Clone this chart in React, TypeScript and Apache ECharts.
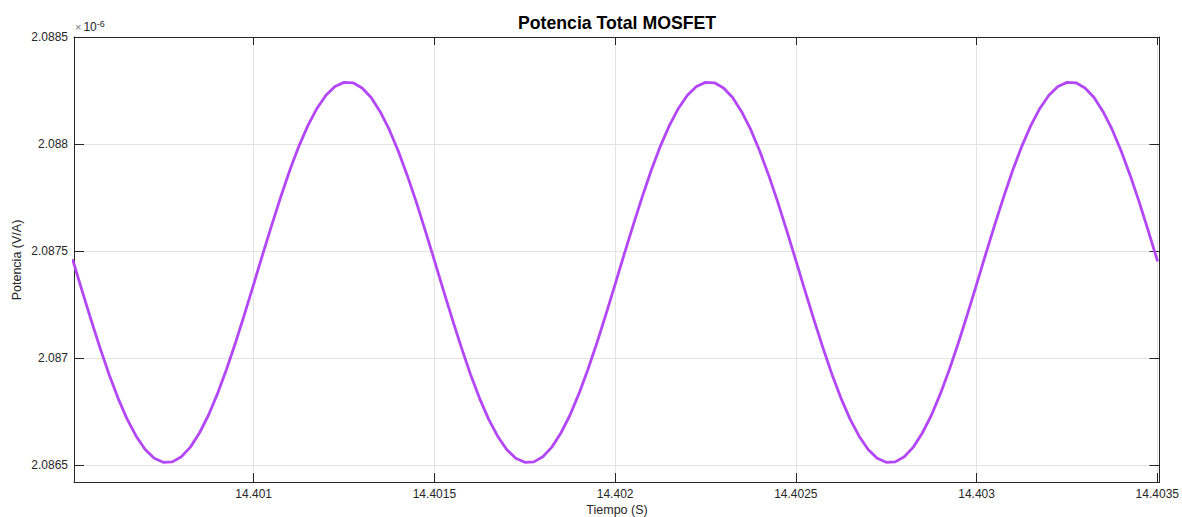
import React, { useEffect, useRef } from "react";
import * as echarts from "echarts";

const tiempo: number[] = [
  14.4005, 14.400525, 14.40055, 14.400575, 14.4006, 14.400625, 14.40065, 14.400675, 14.4007, 14.400725,
  14.40075, 14.400775, 14.4008, 14.400825, 14.40085, 14.400875, 14.4009, 14.400925, 14.40095, 14.400975,
  14.401, 14.401025, 14.40105, 14.401075, 14.4011, 14.401125, 14.40115, 14.401175, 14.4012, 14.401225,
  14.40125, 14.401275, 14.4013, 14.401325, 14.40135, 14.401375, 14.4014, 14.401425, 14.40145, 14.401475,
  14.4015, 14.401525, 14.40155, 14.401575, 14.4016, 14.401625, 14.40165, 14.401675, 14.4017, 14.401725,
  14.40175, 14.401775, 14.4018, 14.401825, 14.40185, 14.401875, 14.4019, 14.401925, 14.40195, 14.401975,
  14.402, 14.402025, 14.40205, 14.402075, 14.4021, 14.402125, 14.40215, 14.402175, 14.4022, 14.402225,
  14.40225, 14.402275, 14.4023, 14.402325, 14.40235, 14.402375, 14.4024, 14.402425, 14.40245, 14.402475,
  14.4025, 14.402525, 14.40255, 14.402575, 14.4026, 14.402625, 14.40265, 14.402675, 14.4027, 14.402725,
  14.40275, 14.402775, 14.4028, 14.402825, 14.40285, 14.402875, 14.4029, 14.402925, 14.40295, 14.402975,
  14.403, 14.403025, 14.40305, 14.403075, 14.4031, 14.403125, 14.40315, 14.403175, 14.4032, 14.403225,
  14.40325, 14.403275, 14.4033, 14.403325, 14.40335, 14.403375, 14.4034, 14.403425, 14.40345, 14.403475,
  14.4035,
];

// Potencia in units of 1e-6
const potencia: number[] = [
  2.087456, 2.087316, 2.087179, 2.087047, 2.086923, 2.086811, 2.086714, 2.086634, 2.086572, 2.086531,
  2.086512, 2.086514, 2.086538, 2.086583, 2.086649, 2.086732, 2.086833, 2.086947, 2.087072, 2.087206,
  2.087344, 2.087484, 2.087621, 2.087753, 2.087877, 2.087989, 2.088086, 2.088166, 2.088228, 2.088269,
  2.088288, 2.088286, 2.088262, 2.088217, 2.088151, 2.088068, 2.087967, 2.087853, 2.087728, 2.087594,
  2.087456, 2.087316, 2.087179, 2.087047, 2.086923, 2.086811, 2.086714, 2.086634, 2.086572, 2.086531,
  2.086512, 2.086514, 2.086538, 2.086583, 2.086649, 2.086732, 2.086833, 2.086947, 2.087072, 2.087206,
  2.087344, 2.087484, 2.087621, 2.087753, 2.087877, 2.087989, 2.088086, 2.088166, 2.088228, 2.088269,
  2.088288, 2.088286, 2.088262, 2.088217, 2.088151, 2.088068, 2.087967, 2.087853, 2.087728, 2.087594,
  2.087456, 2.087316, 2.087179, 2.087047, 2.086923, 2.086811, 2.086714, 2.086634, 2.086572, 2.086531,
  2.086512, 2.086514, 2.086538, 2.086583, 2.086649, 2.086732, 2.086833, 2.086947, 2.087072, 2.087206,
  2.087344, 2.087484, 2.087621, 2.087753, 2.087877, 2.087989, 2.088086, 2.088166, 2.088228, 2.088269,
  2.088288, 2.088286, 2.088262, 2.088217, 2.088151, 2.088068, 2.087967, 2.087853, 2.087728, 2.087594,
  2.087456,
];

const xTicks: number[] = [14.401, 14.4015, 14.402, 14.4025, 14.403, 14.4035];
const yTicks: number[] = [2.0865, 2.087, 2.0875, 2.088, 2.0885];

const X_MIN = 14.400503;
const X_MAX = 14.403506;
const Y_MIN = 2.08642;
const Y_MAX = 2.0885;

const FONT = "'Liberation Sans', Arial, Helvetica, sans-serif";
const AXIS_COLOR = "#262626";
const GRID_COLOR = "#e3e3e3";

export default function App() {
  const ref = useRef<HTMLDivElement>(null);

  useEffect(() => {
    document.body.style.margin = "0";
    if (!ref.current) return;
    const chart = echarts.init(ref.current, null, { renderer: "svg" });

    const axisCommon = {
      axisLine: { show: true, onZero: false, lineStyle: { color: AXIS_COLOR, width: 1 } },
    };

    chart.setOption({
      animation: false,
      backgroundColor: "#ffffff",
      grid: { left: 74, top: 37, right: 21, bottom: 35, containLabel: false },
      xAxis: [
        {
          type: "value",
          position: "bottom",
          min: X_MIN,
          max: X_MAX,
          ...axisCommon,
          axisTick: { show: true, inside: true, length: 9, customValues: xTicks, lineStyle: { color: AXIS_COLOR } },
          axisLabel: {
            customValues: xTicks,
            formatter: (v: number) => String(v),
            color: AXIS_COLOR,
            fontFamily: FONT,
            fontSize: 12,
            margin: 6,
          },
          splitLine: { show: true, lineStyle: { color: GRID_COLOR, width: 1 } },
        },
        {
          type: "value",
          position: "top",
          min: X_MIN,
          max: X_MAX,
          ...axisCommon,
          axisTick: { show: true, inside: true, length: 8, customValues: xTicks, lineStyle: { color: AXIS_COLOR } },
          axisLabel: { show: false, customValues: xTicks },
          splitLine: { show: false },
        },
      ],
      yAxis: [
        {
          type: "value",
          position: "left",
          min: Y_MIN,
          max: Y_MAX,
          ...axisCommon,
          axisTick: { show: true, inside: true, length: 10, customValues: yTicks, lineStyle: { color: AXIS_COLOR } },
          axisLabel: {
            customValues: yTicks,
            formatter: (v: number) => String(v),
            color: AXIS_COLOR,
            fontFamily: FONT,
            fontSize: 12,
            margin: 6,
          },
          splitLine: { show: true, lineStyle: { color: GRID_COLOR, width: 1 } },
        },
        {
          type: "value",
          position: "right",
          min: Y_MIN,
          max: Y_MAX,
          ...axisCommon,
          axisTick: { show: true, inside: true, length: 10, customValues: yTicks, lineStyle: { color: AXIS_COLOR } },
          axisLabel: { show: false, customValues: yTicks },
          splitLine: { show: false },
        },
      ],
      series: [
        {
          type: "line",
          xAxisIndex: 0,
          yAxisIndex: 0,
          data: tiempo.map((t, i) => [t, potencia[i]]),
          smooth: false,
          showSymbol: false,
          symbol: "none",
          clip: true,
          lineStyle: { color: "#b347f5", width: 2.8, join: "round", cap: "round" },
        },
      ],
      graphic: [
        {
          type: "text",
          x: 617,
          y: 23,
          style: {
            text: "Potencia Total MOSFET",
            fontFamily: FONT,
            fontSize: 17.7,
            fontWeight: "bold",
            fill: "#000000",
            textAlign: "center",
            textVerticalAlign: "middle",
          },
        },
        {
          type: "text",
          x: 17,
          y: 260,
          rotation: Math.PI / 2,
          style: {
            text: "Potencia (V/A)",
            fontFamily: FONT,
            fontSize: 12.5,
            fill: AXIS_COLOR,
            textAlign: "center",
            textVerticalAlign: "middle",
          },
        },
        {
          type: "text",
          x: 617,
          y: 509.5,
          style: {
            text: "Tiempo (S)",
            fontFamily: FONT,
            fontSize: 12.5,
            fill: AXIS_COLOR,
            textAlign: "center",
            textVerticalAlign: "middle",
          },
        },
        {
          type: "text",
          x: 75,
          y: 35,
          style: {
            text: "{x|×}{b|10}{s|-6}",
            fontFamily: FONT,
            fill: AXIS_COLOR,
            textAlign: "left",
            textVerticalAlign: "bottom",
            rich: {
              x: { fontSize: 11, fill: "#777777", fontFamily: FONT, padding: [0, 2, 0, 0] },
              b: { fontSize: 12, fill: AXIS_COLOR, fontFamily: FONT },
              s: { fontSize: 9, fill: AXIS_COLOR, fontFamily: FONT, verticalAlign: "top", padding: [0, 0, 7, 0] },
            },
          },
        },
      ],
    });

    return () => {
      chart.dispose();
    };
  }, []);

  return <div ref={ref} style={{ width: 1182, height: 517 }} />;
}
